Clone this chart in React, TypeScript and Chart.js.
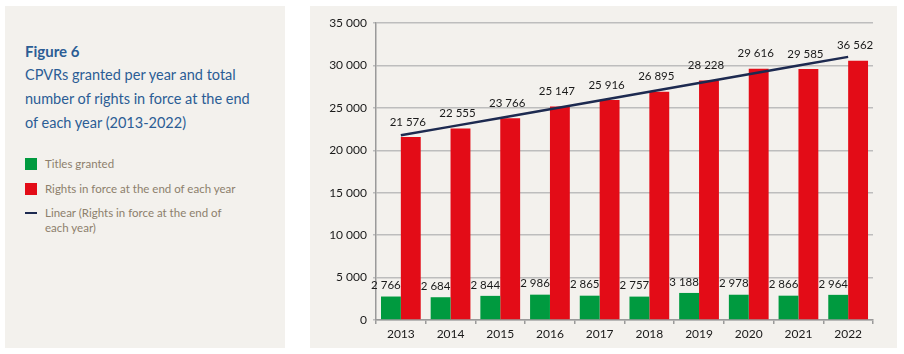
import React, { useEffect, useRef } from "react";
import { Chart, registerables } from "chart.js";

Chart.register(...registerables);

const years = ["2013", "2014", "2015", "2016", "2017", "2018", "2019", "2020", "2021", "2022"];
const titlesGranted = [2766, 2684, 2844, 2986, 2865, 2757, 3188, 2978, 2866, 2964];
const rightsInForce = [21576, 22555, 23766, 25147, 25916, 26895, 28228, 29616, 29585, 30562];
const titlesLabels = ["2 766", "2 684", "2 844", "2 986", "2 865", "2 757", "3 188", "2 978", "2 866", "2 964"];
const rightsLabels = ["21 576", "22 555", "23 766", "25 147", "25 916", "26 895", "28 228", "29 616", "29 585", "36 562"];
const yTicks = [0, 5000, 10000, 15000, 20000, 25000, 30000, 35000];

const FONT = "Lato, 'Open Sans', sans-serif";
const GREEN = "#009a3f";
const RED = "#e30c17";
const NAVY = "#1d2a50";

function linearTrend(vals: number[]): number[] {
  const n = vals.length;
  const mx = (n - 1) / 2;
  const my = vals.reduce((a, b) => a + b, 0) / n;
  let sxy = 0, sxx = 0;
  vals.forEach((v, i) => { sxy += (i - mx) * (v - my); sxx += (i - mx) * (i - mx); });
  const slope = sxy / sxx;
  return vals.map((_, i) => my + slope * (i - mx));
}

function fmt(v: number): string {
  return String(v).replace(/\B(?=(\d{3})+(?!\d))/g, " ");
}

const labelPlugin = {
  id: "barLabels",
  afterDatasetsDraw(chart: any) {
    const ctx = chart.ctx;
    ctx.save();
    ctx.font = `11.5px ${FONT}`;
    ctx.fillStyle = "#1a1a1a";
    ctx.textAlign = "center";
    ctx.textBaseline = "middle";
    const sets: [number, string[], number, number][] = [[0, titlesLabels, -5, 11], [1, rightsLabels, -3, 15]];
    sets.forEach(([di, labels, dx, dy]) => {
      const meta = chart.getDatasetMeta(di);
      meta.data.forEach((el: any, i: number) => {
        ctx.fillText(labels[i], el.x + dx, el.y - dy);
      });
    });
    ctx.restore();
  },
};

function ChartPanel() {
  const ref = useRef<HTMLCanvasElement | null>(null);
  useEffect(() => {
    if (!ref.current) return;
    const chart = new Chart(ref.current, {
      type: "bar",
      data: {
        labels: years,
        datasets: [
          { type: "bar", label: "Titles granted", data: titlesGranted, backgroundColor: GREEN, order: 1, categoryPercentage: 0.8, barPercentage: 1.0 },
          { type: "bar", label: "Rights in force at the end of each year", data: rightsInForce, backgroundColor: RED, order: 1, categoryPercentage: 0.8, barPercentage: 1.0 },
          {
            type: "line",
            label: "Linear (Rights in force at the end of each year)",
            data: linearTrend(rightsInForce),
            borderColor: NAVY,
            borderWidth: 2.5,
            pointRadius: 0,
            fill: false,
            order: 0,
          } as any,
        ],
      },
      options: {
        animation: false,
        responsive: false,
        maintainAspectRatio: false,
        layout: { padding: { left: 0, right: 24, top: 17, bottom: 0 } },
        plugins: { legend: { display: false }, tooltip: { enabled: false } },
        scales: {
          x: {
            offset: true,
            grid: { display: true, drawOnChartArea: false, drawTicks: true, tickLength: 4, offset: true, color: "#9a9a9a", lineWidth: 1.5 },
            border: { color: "#9a9a9a", width: 1.5 },
            ticks: { color: "#1a1a1a", font: { family: FONT, size: 12 }, padding: 3 },
            afterFit: (s: any) => { s.height = 28; },
          },
          y: {
            min: 0,
            max: 35000,
            afterBuildTicks: (s: any) => { s.ticks = yTicks.map((v) => ({ value: v })); },
            grid: { color: "#bdbdbd", lineWidth: 1.5, drawTicks: true, tickLength: 3 },
            border: { color: "#9a9a9a", width: 1.5 },
            ticks: { color: "#1a1a1a", font: { family: FONT, size: 12 }, padding: 6, callback: (v: any) => fmt(Number(v)) },
            afterFit: (s: any) => { s.width = 66; },
          },
        },
      },
      plugins: [labelPlugin],
    } as any);
    return () => chart.destroy();
  }, []);
  return <canvas ref={ref} width={587} height={342} style={{ position: "absolute", left: 0, top: 0, width: 587, height: 342 }} />;
}

export default function App() {
  const blue = "#2b5d95";
  const legendText = "#8d7f6c";
  return (
    <div style={{ position: "absolute", left: 0, top: 0, width: 904, height: 354, background: "#ffffff", fontFamily: FONT }}>
      <div style={{ position: "absolute", left: 5, top: 6, width: 280, height: 342, background: "#f3f1ed" }}>
        <div style={{ position: "absolute", left: 20, top: 35, color: blue, fontWeight: 700, fontSize: 15, lineHeight: "20px" }}>Figure 6</div>
        <div style={{ position: "absolute", left: 20, top: 57, width: 250, color: blue, fontSize: 14.5, lineHeight: "24px" }}>
          CPVRs granted per year and total<br />number of rights in force at the end<br />of each year (2013-2022)
        </div>
        <div style={{ position: "absolute", left: 20, top: 152, width: 12, height: 12, background: GREEN }} />
        <div style={{ position: "absolute", left: 40, top: 150, color: legendText, fontSize: 11.5, lineHeight: "15px" }}>Titles granted</div>
        <div style={{ position: "absolute", left: 20, top: 177, width: 12, height: 12, background: RED }} />
        <div style={{ position: "absolute", left: 40, top: 175, color: legendText, fontSize: 11.5, lineHeight: "15px" }}>Rights in force at the end of each year</div>
        <div style={{ position: "absolute", left: 20, top: 206, width: 12, height: 2, background: NAVY }} />
        <div style={{ position: "absolute", left: 40, top: 199, width: 200, color: legendText, fontSize: 11.5, lineHeight: "15px" }}>
          Linear (Rights in force at the end of<br />each year)
        </div>
      </div>
      <div style={{ position: "absolute", left: 310, top: 6, width: 587, height: 342, background: "#f3f1ed" }}>
        <ChartPanel />
      </div>
    </div>
  );
}
